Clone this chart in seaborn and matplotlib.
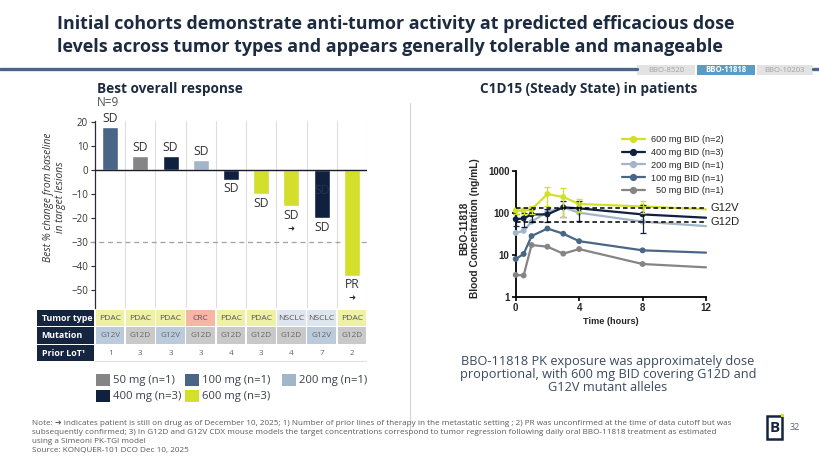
import matplotlib
matplotlib.use("Agg")
import matplotlib.pyplot as plt
from matplotlib.patches import Rectangle
from matplotlib.lines import Line2D
import seaborn as sns
import pandas as pd
import numpy as np

# ---------------- data ----------------
patients = ["1", "2", "3", "4", "5", "6", "7", "8", "9"]
best_change = [18, 6, 6, 4, -4, -10, -15, -20, -44]
patient_dose = ["100 mg", "50 mg", "400 mg", "200 mg", "400 mg", "600 mg", "600 mg", "400 mg", "600 mg"]
response = ["SD", "SD", "SD", "SD", "SD", "SD", "SD", "SD", "PR"]
on_drug = [False, False, False, False, False, False, True, False, True]
tumor_type = ["PDAC", "PDAC", "PDAC", "CRC", "PDAC", "PDAC", "NSCLC", "NSCLC", "PDAC"]
mutation = ["G12V", "G12D", "G12V", "G12D", "G12D", "G12D", "G12D", "G12V", "G12D"]
prior_lot = ["1", "3", "3", "3", "4", "3", "4", "7", "2"]
bar_legend = ["50 mg (n=1)", "100 mg (n=1)", "200 mg (n=1)", "400 mg (n=3)", "600 mg (n=3)"]
bar_legend_dose = ["50 mg", "100 mg", "200 mg", "400 mg", "600 mg"]

times = [0, 0.5, 1, 2, 3, 4, 8, 12]
conc_50 = [3.3, 3.2, 17, 15.5, 10.6, 13.6, 6.0, 5.0]
conc_100 = [7.9, 10.4, 27.8, 42, 31.6, 21, 12.7, 11.2]
conc_200 = [33, 37, 61, 105, 134, 100, 61, 48]
conc_400 = [70, 73, 91, 91, 134, 127, 91, 76]
conc_600 = [112, 112, 120, 278, 236, 161, 141, 120]
sd_400 = [22, 28, 30, 30, 55, 65, 58, 0]
sd_600 = [18, 20, 28, 135, 155, 55, 45, 0]
pk_labels = ["50 mg BID (n=1)", "100 mg BID (n=1)", "200 mg BID (n=1)", "400 mg BID (n=3)", "600 mg BID (n=2)"]
g12v_target = 127
g12d_target = 61

# ---------------- style ----------------
dose_colors = {"50 mg": "#858585", "100 mg": "#4a6686", "200 mg": "#a3b5c8",
               "400 mg": "#10203f", "600 mg": "#d3df2b"}
tumor_colors = {"PDAC": "#eef1a3", "CRC": "#f6b6a6", "NSCLC": "#dfe5ee"}
mut_colors = {"G12V": "#bccbdb", "G12D": "#c9c9c9"}
NAVY = "#15243f"

sns.set_theme(style="white")
plt.rcParams["font.family"] = ["Open Sans", "DejaVu Sans"]

W, H = 820, 461
fig = plt.figure(figsize=(W / 100, H / 100), dpi=100)

def fx(px):
    return px / W

def fy(py):
    return 1 - py / H

# ---------------- header ----------------
fig.text(fx(57), fy(24), "Initial cohorts demonstrate anti-tumor activity at predicted efficacious dose",
         fontsize=12.9, weight="bold", color="#1c2b40", va="center")
fig.text(fx(57), fy(47), "levels across tumor types and appears generally tolerable and manageable",
         fontsize=12.9, weight="bold", color="#1c2b40", va="center")
fig.add_artist(Line2D([0, fx(637)], [fy(69), fy(69)], color="#4a6585", lw=2.4))
fig.add_artist(Line2D([fx(813), 1], [fy(69), fy(69)], color="#4a6585", lw=2.4))
tabs = [("BBO-8520", 637, 695, "#e3e3e3", "#a2a2a2", "normal"),
        ("BBO-11818", 697, 755, "#5a9cc3", "white", "bold"),
        ("BBO-10203", 757, 813, "#e3e3e3", "#a2a2a2", "normal")]
for name, x0, x1, fc, tc, wt in tabs:
    fig.add_artist(Rectangle((fx(x0), fy(75)), fx(x1 - x0), 10 / H, facecolor=fc, edgecolor="none"))
    fig.text(fx((x0 + x1) / 2), fy(70), name, fontsize=5.6, color=tc, weight=wt, ha="center", va="center")

fig.text(fx(97), fy(89), "Best overall response", fontsize=9.8, weight="bold", color="#1c2b40", va="center")
fig.text(fx(97), fy(103), "N=9", fontsize=8.5, color="#4a4f5a", va="center")
fig.text(fx(480), fy(89), "C1D15 (Steady State) in patients", fontsize=9.8, weight="bold", color="#1c2b40", va="center")
fig.add_artist(Line2D([fx(410), fx(410)], [fy(103), fy(430)], color="#d4d4d4", lw=0.8))

# ---------------- waterfall ----------------
ax1 = fig.add_axes([fx(95), fy(308), fx(272), 187 / H])
df = pd.DataFrame({"patient": patients, "change": best_change, "dose": patient_dose})
sns.barplot(data=df, x="patient", y="change", hue="patient",
            palette=[dose_colors[d] for d in patient_dose], legend=False,
            width=0.53, saturation=1, ax=ax1, zorder=3)
ax1.set_xlim(-0.5, 8.5)
ax1.set_ylim(-57.5, 20.4)
ax1.set_yticks(np.arange(-50, 21, 10))
ax1.set_xticks([])
ax1.set_xlabel("")
for i in range(9):
    ax1.axvline(i + 0.5, color="#dedede", lw=0.8, zorder=1)
ax1.axhline(0, color="#1a1a2e", lw=1.0, zorder=4)
ax1.plot([-0.68, 8.5], [-30, -30], ls=(0, (4, 3)), color="#a0a0a0", lw=0.9, clip_on=False, zorder=2)
for s in ["top", "right", "bottom"]:
    ax1.spines[s].set_visible(False)
ax1.spines["left"].set_color("#2a2a3a")
ax1.spines["left"].set_linewidth(0.9)
ax1.tick_params(axis="y", left=True, length=3, width=0.8, color="#2a2a3a", labelsize=7,
                labelcolor="#333333", pad=2)
ax1.set_ylabel("Best % change from baseline\nin target lesions", fontsize=7.4, style="italic",
               color="#333333", linespacing=1.1)
ax1.yaxis.set_label_coords(-0.107, 0.59)

for i, (v, lab, od) in enumerate(zip(best_change, response, on_drug)):
    if v >= 0:
        ax1.text(i, v + 0.8, lab, ha="center", va="bottom", fontsize=8.7, color="#333333", clip_on=False, zorder=5)
    else:
        ax1.text(i, v - 1.2, lab, ha="center", va="top", fontsize=8.7, color="#333333", zorder=5)
        if od:
            ax1.text(i, v - 7.6, "\u279c", ha="center", va="top", fontsize=6, color="#222222",
                     family=["DejaVu Sans"], zorder=5)
# duplicate label overlapping bar 8 in the original
ax1.text(7, -5.8, "SD", ha="center", va="top", fontsize=8.7, color="#24334d", zorder=5)

# ---------------- table ----------------
axt = fig.add_axes([fx(95), fy(362), fx(272), 53 / H])
axt.set_xlim(-0.5, 8.5)
axt.set_ylim(3, 0)
axt.axis("off")
row_names = ["Tumor type", "Mutation", "Prior LoT\u00b9"]
gx, gy = 0.025, 0.04
for r, name in enumerate(row_names):
    axt.add_patch(Rectangle((-2.42, r + gy), 1.92 - gx, 1 - 2 * gy, facecolor=NAVY, edgecolor="none", clip_on=False))
    axt.text(-2.27, r + 0.52, name, color="white", fontsize=6.4, weight="bold", va="center", ha="left", clip_on=False)
for i in range(9):
    axt.add_patch(Rectangle((i - 0.5 + gx, 0 + gy), 1 - 2 * gx, 1 - 2 * gy,
                            facecolor=tumor_colors[tumor_type[i]], edgecolor="none"))
    axt.text(i, 0.52, tumor_type[i], ha="center", va="center", fontsize=6.1, color="#555555")
    axt.add_patch(Rectangle((i - 0.5 + gx, 1 + gy), 1 - 2 * gx, 1 - 2 * gy,
                            facecolor=mut_colors[mutation[i]], edgecolor="none"))
    axt.text(i, 1.52, mutation[i], ha="center", va="center", fontsize=5.9, color="#666666")
    axt.text(i, 2.52, prior_lot[i], ha="center", va="center", fontsize=5.9, color="#666666")
axt.plot([-0.5, 8.5], [2.97, 2.97], color="#e0e0e0", lw=0.8)

# bar legend (manual grid)
leg_pos = [(96, 380), (185, 380), (282, 380), (96, 396), (185, 396)]
for (px, py), lab, d in zip(leg_pos, bar_legend, bar_legend_dose):
    fig.add_artist(Rectangle((fx(px), fy(py + 6)), fx(14), 12 / H, facecolor=dose_colors[d], edgecolor="none"))
    fig.text(fx(px + 17), fy(py), lab, fontsize=8.1, color="#3a3f4a", va="center")

# ---------------- PK plot ----------------
ax2 = fig.add_axes([fx(515.7), fy(296.7), fx(190.3), 126 / H])
pk_series = [conc_50, conc_100, conc_200, conc_400, conc_600]
pk_doses = ["50 mg", "100 mg", "200 mg", "400 mg", "600 mg"]
rows = []
for d, lab, conc in zip(pk_doses, pk_labels, pk_series):
    for t, c in zip(times, conc):
        rows.append({"dose": d, "label": lab, "time": t, "conc": c})
pk = pd.DataFrame(rows)
pal = {lab: dose_colors[d] for d, lab in zip(pk_doses, pk_labels)}
for k, (d, lab) in enumerate(zip(pk_doses, pk_labels)):
    sub = pk[pk["label"] == lab]
    sns.lineplot(data=sub, x="time", y="conc", color=pal[lab], lw=1.6, ax=ax2,
                 clip_on=False, zorder=3 + k, legend=False)
    sns.scatterplot(data=sub[sub["time"] < 12], x="time", y="conc", color=pal[lab], s=18,
                    edgecolor="none", ax=ax2, clip_on=False, zorder=3 + k, legend=False)
for conc, sd, d, z in [(conc_400, sd_400, "400 mg", 7), (conc_600, sd_600, "600 mg", 8)]:
    t_arr = np.array(times[:-1])
    c_arr = np.array(conc[:-1])
    s_arr = np.array(sd[:-1])
    low = np.minimum(s_arr, c_arr * 0.7)
    ax2.errorbar(t_arr, c_arr, yerr=[low, s_arr], fmt="none", ecolor=dose_colors[d],
                 elinewidth=0.9, capsize=2.2, capthick=0.9, zorder=z, clip_on=False)
ax2.set_yscale("log")
ax2.set_xlim(0, 12)
ax2.set_ylim(1, 1000)
ax2.set_xticks([0, 4, 8, 12])
ax2.set_yticks([1, 10, 100, 1000])
ax2.set_yticklabels(["1", "10", "100", "1000"])
ax2.yaxis.set_minor_locator(matplotlib.ticker.NullLocator())
ax2.plot([0, 12], [g12v_target] * 2, ls=(0, (3, 2)), color="black", lw=1.1, zorder=10, clip_on=False)
ax2.plot([0, 12], [g12d_target] * 2, ls=(0, (3, 2)), color="black", lw=1.1, zorder=10, clip_on=False)
ax2.text(12.3, g12v_target, "G12V", fontsize=8, va="center", ha="left", color="#222222", family=["Liberation Sans"])
ax2.text(12.3, g12d_target, "G12D", fontsize=8, va="center", ha="left", color="#222222", family=["Liberation Sans"])
for s in ["top", "right"]:
    ax2.spines[s].set_visible(False)
for s in ["left", "bottom"]:
    ax2.spines[s].set_color("black")
    ax2.spines[s].set_linewidth(1.3)
ax2.tick_params(axis="both", which="major", length=3, width=1.2, color="black", bottom=True, left=True,
                labelsize=7, pad=1.5)
for lab in ax2.get_xticklabels() + ax2.get_yticklabels():
    lab.set_fontweight("bold")
    lab.set_family(["Liberation Sans"])
ax2.set_xlabel("Time (hours)", fontsize=6.6, weight="bold", family=["Liberation Sans"], labelpad=3)
ax2.set_ylabel("BBO-11818\nBlood Concentration (ng/mL)", fontsize=7.3, weight="bold",
               family=["Liberation Sans"], linespacing=1.15)
ax2.yaxis.set_label_coords(-0.185, 0.545)

handles = [Line2D([], [], color=pal[lab], lw=1.6, marker="o", markersize=4.2) for lab in pk_labels][::-1]
labels = [pk_labels[4], pk_labels[3], pk_labels[2], pk_labels[1], "  " + pk_labels[0]]
fig.legend(handles, labels, loc="upper left", bbox_to_anchor=(fx(622), fy(135)), frameon=False,
           prop={"family": "Liberation Sans", "size": 6.6}, handlelength=2.5, labelspacing=0.42,
           handletextpad=0.7, borderpad=0, borderaxespad=0)

# caption
cap = ["BBO-11818 PK exposure was approximately dose",
       "proportional, with 600 mg BID covering G12D and",
       "G12V mutant alleles"]
for k, line in enumerate(cap):
    fig.text(fx(608), fy(361 + 13.3 * k), line, fontsize=9.2, color="#3b4a5e", ha="center", va="center")

# footnote
notes = ["Note: \u279c indicates patient is still on drug as of December 10, 2025; 1) Number of prior lines of therapy in the metastatic setting ; 2) PR was unconfirmed at the time of data cutoff but was",
         "subsequently confirmed; 3) In G12D and G12V CDX mouse models the target concentrations correspond to tumor regression following daily oral BBO-11818 treatment as estimated",
         "using a Simeoni PK-TGI model",
         "Source: KONQUER-101 DCO Dec 10, 2025"]
for k, line in enumerate(notes):
    fig.text(fx(32), fy(423 + 9 * k), line, fontsize=5.9, color="#5a5a5a", va="center",
             family=["Open Sans", "DejaVu Sans"])

# logo + page number
fig.add_artist(Rectangle((fx(767), fy(439)), fx(15), 23 / H, facecolor="none", edgecolor=NAVY, lw=1.8))
fig.text(fx(774.5), fy(427.5), "B", fontsize=11, weight="bold", color=NAVY, ha="center", va="center")
fig.add_artist(Rectangle((fx(781), fy(417)), fx(3), 3 / H, facecolor="#d3df2b", edgecolor="none"))
fig.text(fx(790), fy(427), "32", fontsize=6.5, color="#5a6270", va="center")

fig.savefig("out.png", dpi=100)
